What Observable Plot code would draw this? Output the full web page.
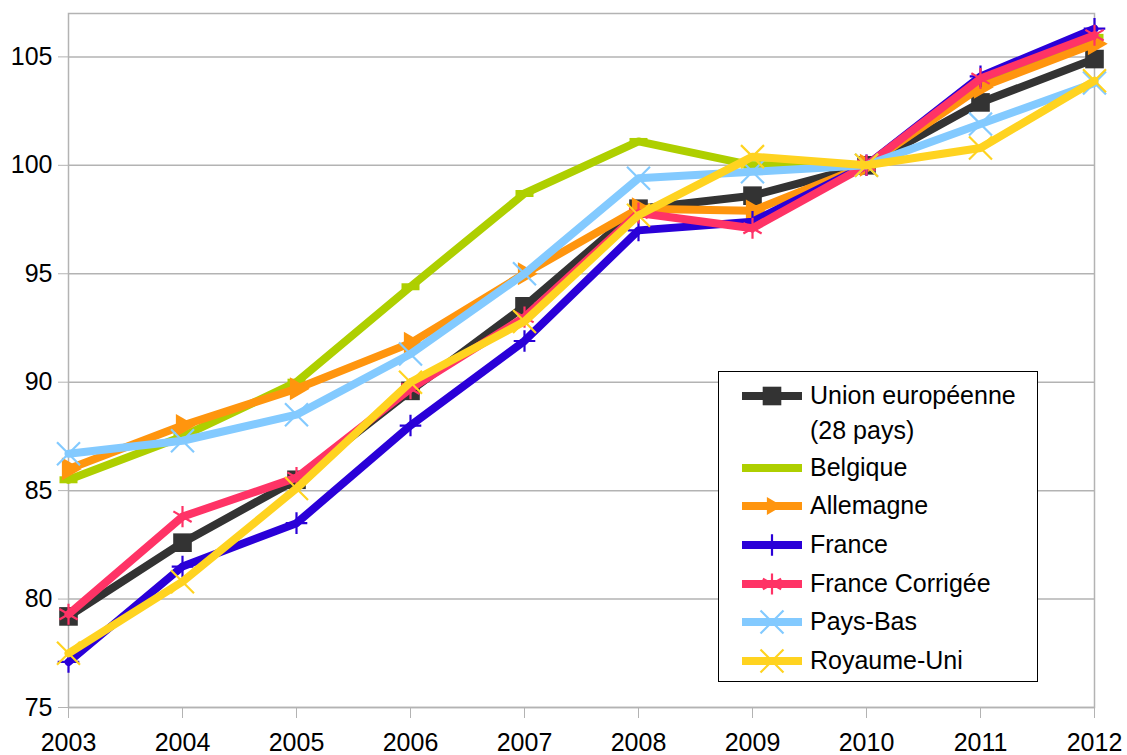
<!DOCTYPE html>
<html>
<head>
<meta charset="utf-8">
<script src="https://cdn.jsdelivr.net/npm/d3@7"></script>
<script src="https://cdn.jsdelivr.net/npm/@observablehq/plot@0.6"></script>
<style>
  html, body { margin: 0; padding: 0; background: #fff; }
  #wrap { position: relative; width: 1127px; height: 755px; font-family: "Liberation Sans", Arial, sans-serif; }
  #legend { position: absolute; left: 718px; top: 371px; width: 320px; height: 311px; border: 1px solid #000; background: #fff; box-sizing: border-box; }
  .row { position: absolute; left: 0; height: 36px; }
  .row svg { position: absolute; left: 23px; top: 0; }
  .row span { position: absolute; left: 91px; top: 0px; font-size: 25px; line-height: 35px; white-space: nowrap; color: #000; }
</style>
</head>
<body>
<div id="wrap"><div id="chart"></div><div id="legend"></div></div>
<script>
const years = [2003, 2004, 2005, 2006, 2007, 2008, 2009, 2010, 2011, 2012];
const yTicks = [75, 80, 85, 90, 95, 100, 105];
const ue = [79.2, 82.6, 85.5, 89.6, 93.5, 98.0, 98.6, 100, 102.9, 104.9];
const belgique = [85.5, 87.5, 90.0, 94.4, 98.7, 101.1, 100.0, 100, 103.8, 105.9];
const allemagne = [86.0, 88.0, 89.7, 91.8, 95.0, 98.0, 97.9, 100, 103.6, 105.6];
const france = [77.1, 81.5, 83.5, 88.0, 91.9, 97.0, 97.4, 100, 104.1, 106.3];
const franceCorrigee = [79.3, 83.8, 85.6, 89.7, 93.0, 97.8, 97.1, 100, 104.0, 106.0];
const paysBas = [86.7, 87.3, 88.5, 91.3, 95.0, 99.4, 99.7, 100, 101.9, 103.8];
const royaumeUni = [77.5, 80.8, 85.1, 90.0, 92.8, 97.7, 100.4, 100, 100.8, 103.9];

const hbar = {draw(context) { context.rect(-9, -3.5, 18, 7); }};

const series = [
  {name: "Union européenne\n(28 pays)", values: ue, color: "#333333", symbol: "square", r: 10.5, filled: true, rotate: 0},
  {name: "Belgique", values: belgique, color: "#aecf00", symbol: "hbar", r: 5, filled: true, rotate: 0},
  {name: "Allemagne", values: allemagne, color: "#ff950e", symbol: "triangle", r: 8.5, filled: true, rotate: 90},
  {name: "France", values: france, color: "#2a00d8", symbol: "plus", r: 7, filled: false, rotate: 0},
  {name: "France Corrigée", values: franceCorrigee, color: "#ff3366", symbol: "asterisk", r: 10, filled: false, rotate: 0},
  {name: "Pays-Bas", values: paysBas, color: "#83caff", symbol: "times", r: 10.5, filled: false, rotate: 0},
  {name: "Royaume-Uni", values: royaumeUni, color: "#ffd320", symbol: "times", r: 10.5, filled: false, rotate: 0}
];

const grey = "#b3b3b3";
const marks = [
  Plot.gridY(yTicks, {stroke: grey, strokeOpacity: 1, strokeWidth: 1.5}),
  Plot.frame({stroke: grey, strokeWidth: 1.5}),
  Plot.axisY(yTicks, {tickSize: 10, tickPadding: 6, stroke: grey, fill: "#000", fontSize: 25}),
  Plot.axisX(years, {tickSize: 11, tickPadding: 15, stroke: grey, fill: "#000", fontSize: 25, tickFormat: d => String(d)})
];
for (const s of series) {
  const data = years.map((y, i) => ({year: y, value: s.values[i]}));
  marks.push(Plot.line(data, {x: "year", y: "value", stroke: s.color, strokeWidth: 8, strokeLinejoin: "round"}));
  marks.push(Plot.dot(data, {
    x: "year", y: "value", symbol: s.symbol === "hbar" ? hbar : s.symbol, r: s.r, rotate: s.rotate,
    fill: s.filled ? s.color : "none", stroke: s.color, strokeWidth: s.filled ? 0 : 2.2
  }));
}

const chart = Plot.plot({
  width: 1127,
  height: 755,
  marginLeft: 68,
  marginRight: 33,
  marginTop: 13,
  marginBottom: 48,
  x: {domain: [2003, 2012], label: null},
  y: {domain: [75, 107], label: null},
  style: {fontFamily: "Liberation Sans, Arial, sans-serif", fontSize: "25px", background: "#fff", color: "#000", overflow: "visible"},
  marks
});
document.getElementById("chart").appendChild(chart);

// Legend
const legend = document.getElementById("legend");
const symMap = {square: d3.symbolSquare, triangle: d3.symbolTriangle2, plus: d3.symbolPlus, asterisk: d3.symbolAsterisk, times: d3.symbolTimes};
const rowTops = [6, 78, 116, 155, 194, 232, 271];
series.forEach((s, i) => {
  const row = document.createElement("div");
  row.className = "row";
  row.style.top = rowTops[i] + "px";
  const ns = "http://www.w3.org/2000/svg";
  const svg = document.createElementNS(ns, "svg");
  svg.setAttribute("width", 60); svg.setAttribute("height", 36);
  const line = document.createElementNS(ns, "line");
  line.setAttribute("x1", 0); line.setAttribute("x2", 60);
  line.setAttribute("y1", 18); line.setAttribute("y2", 18);
  line.setAttribute("stroke", s.color); line.setAttribute("stroke-width", 8);
  svg.appendChild(line);
  if (symMap[s.symbol]) {
    const p = document.createElementNS(ns, "path");
    p.setAttribute("d", d3.symbol(symMap[s.symbol], Math.PI * s.r * s.r)());
    p.setAttribute("transform", `translate(30,18) rotate(${s.rotate})`);
    p.setAttribute("fill", s.filled ? s.color : "none");
    p.setAttribute("stroke", s.filled ? "none" : s.color);
    p.setAttribute("stroke-width", 2.2);
    svg.appendChild(p);
  }
  row.appendChild(svg);
  const span = document.createElement("span");
  span.innerHTML = s.name.replace("\n", "<br>");
  row.appendChild(span);
  legend.appendChild(row);
});
</script>
</body>
</html>
